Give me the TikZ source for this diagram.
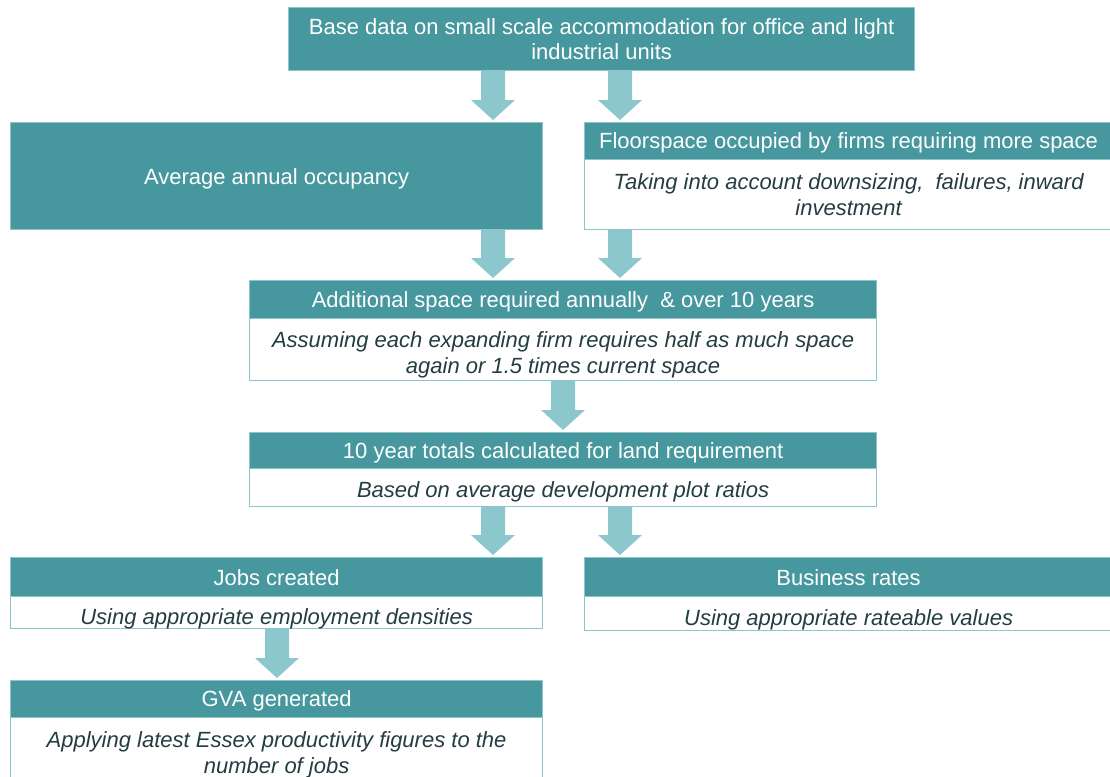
\documentclass[tikz,border=0pt]{standalone}
\usepackage{fontspec}
\setmainfont{Liberation Sans}
\usetikzlibrary{calc}
\definecolor{teal1}{HTML}{46979E}
\definecolor{arrowc}{HTML}{8DC7CE}
\definecolor{edgec}{HTML}{8CC6CC}
\definecolor{bodytext}{HTML}{243D42}
\tikzset{
  titlebox/.style={draw=edgec, line width=1.2pt, fill=teal1, anchor=north west, inner sep=0pt},
  bodybox/.style={draw=edgec, line width=1.2pt, fill=white, anchor=north west, inner sep=0pt},
  titletext/.style={text=white, inner sep=0pt, align=center, font=\fontsize{22}{25}\selectfont},
  bodytxt/.style={text=bodytext, inner sep=0pt, align=center, font=\fontsize{22}{26}\selectfont\itshape},
}
% name, x, y, width, height, text shift, text
\newcommand\tbox[7]{\node[titlebox, minimum width=#4pt, minimum height=#5pt] (#1) at (#2,#3) {};
  \node[titletext, yshift=-#6pt] (#1t) at (#1.center) {#7};}
\newcommand\bbox[7]{\node[bodybox, minimum width=#4pt, minimum height=#5pt] (#1) at (#2,#3) {};
  \node[bodytxt, yshift=-#6pt] (#1t) at (#1.center) {#7};}
\newcommand\blockarrow[3]{%
  \fill[arrowc] let \p1=(#2.south), \p2=(#3.north) in
   (#1pt-12pt,\y1) -- (#1pt+12pt,\y1) -- (#1pt+12pt,\y2+22pt) -- (#1pt+22pt,\y2+22pt)
   -- (#1pt,\y2+2pt) -- (#1pt-22pt,\y2+22pt) -- (#1pt-12pt,\y2+22pt) -- cycle;}
\begin{document}
\begin{tikzpicture}[x=1pt,y=-1pt]
\useasboundingbox (0,0) rectangle (1110,776);
% boxes
\tbox{top}{288}{7}{626}{63}{0}{Base data on small scale accommodation for office and light\\industrial units}
\tbox{avg}{10}{122}{532}{107}{3}{Average annual occupancy}
\tbox{floor}{584}{122}{528}{37}{2}{Floorspace occupied by firms requiring more space}
\bbox{floorb}{584}{159}{528}{70}{0}{Taking into account downsizing,~ failures, inward\\investment}
\tbox{addl}{249}{280}{627}{38}{2}{Additional space required annually~ \& over 10 years}
\bbox{addlb}{249}{318}{627}{62}{5}{Assuming each expanding firm requires half as much space\\again or 1.5 times current space}
\tbox{tenyr}{249}{432}{627}{36}{2}{10 year totals calculated for land requirement}
\bbox{tenyrb}{249}{468}{627}{38}{4}{Based on average development plot ratios}
\tbox{jobs}{10}{557}{532}{39}{1}{Jobs created}
\bbox{jobsb}{10}{596}{532}{32}{6}{Using appropriate employment densities}
\tbox{biz}{584}{557}{528}{39}{1}{Business rates}
\bbox{bizb}{584}{596}{528}{34}{6}{Using appropriate rateable values}
\tbox{gva}{10}{680}{532}{37}{2}{GVA generated}
\bbox{gvab}{10}{717}{532}{70}{2}{Applying latest Essex productivity figures to the\\number of jobs}
% arrows
\blockarrow{493}{top}{avg}
\blockarrow{620}{top}{floor}
\blockarrow{493}{avg}{addl}
\blockarrow{620}{floorb}{addl}
\blockarrow{563}{addlb}{tenyr}
\blockarrow{493}{tenyrb}{jobs}
\blockarrow{620}{tenyrb}{biz}
\blockarrow{277}{jobsb}{gva}
\end{tikzpicture}
\end{document}
